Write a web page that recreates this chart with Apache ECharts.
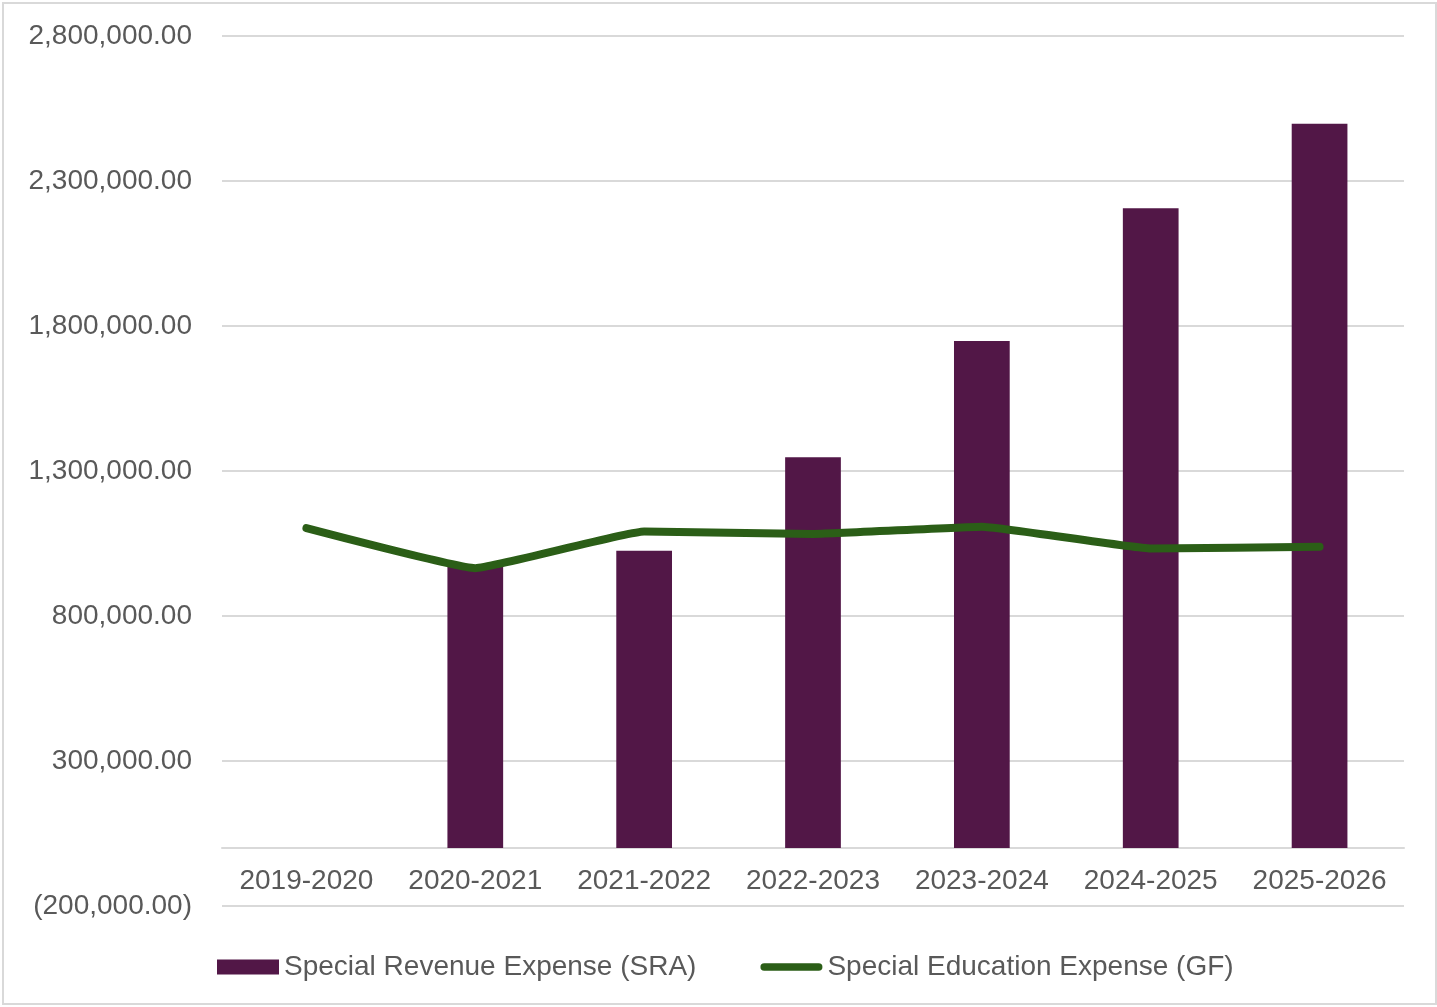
<!DOCTYPE html>
<html>
<head>
<meta charset="utf-8">
<script src="https://cdn.jsdelivr.net/npm/echarts@6/dist/echarts.min.js"></script>
<style>
  html, body { margin: 0; padding: 0; background: #fff; }
  #frame { position: absolute; left: 2px; top: 2px; width: 1431px; height: 999px; border: 2px solid #d9d9d9; box-sizing: content-box; }
  #chart { position: absolute; left: 0; top: 0; width: 1437px; height: 1007px; }
</style>
</head>
<body>
<div id="frame"></div>
<div id="chart"></div>
<script>
const categories = ["2019-2020", "2020-2021", "2021-2022", "2022-2023", "2023-2024", "2024-2025", "2025-2026"];
const sraValues = [0, 975000, 1025000, 1347000, 1748000, 2206000, 2497000];
const gfValues = [1103000, 965000, 1091000, 1083000, 1108000, 1033000, 1039000];
const yTicks = { min: -200000, max: 2800000, interval: 500000 };
const seriesNames = ['Special Revenue Expense (SRA)', 'Special Education Expense (GF)'];

function fmt(v) {
  const s = Math.abs(v).toLocaleString('en-US', { minimumFractionDigits: 2, maximumFractionDigits: 2 });
  return v < 0 ? '(' + s + ')' : s;
}

const chart = echarts.init(document.getElementById('chart'), null, { renderer: 'canvas' });
const font = 'Liberation Sans, Arial, sans-serif';
const fs = 28;
chart.setOption({
  backgroundColor: 'transparent',
  animation: false,
  textStyle: { fontFamily: font },
  grid: { left: 222, right: 33, top: 36, bottom: 101, containLabel: false },
  legend: {
    data: [
      { name: seriesNames[0], icon: 'rect' },
      { name: seriesNames[1], icon: 'path://M4,0 H62 A4,4 0 0 1 62,8 H4 A4,4 0 0 1 4,0 Z' }
    ],
    left: 212,
    top: 948,
    itemWidth: 62,
    itemHeight: 15,
    itemGap: 64,
    textStyle: { fontSize: fs, color: '#595959', fontFamily: font }
  },
  xAxis: {
    type: 'category',
    data: categories,
    offset: -58,
    axisLine: { show: true, onZero: false, lineStyle: { color: '#d9d9d9', width: 2 } },
    axisTick: { show: false },
    axisLabel: { interval: 0, hideOverlap: false, fontSize: fs, color: '#595959', margin: 19, fontFamily: font }
  },
  yAxis: {
    type: 'value',
    min: yTicks.min,
    max: yTicks.max,
    interval: yTicks.interval,
    axisLine: { show: false },
    axisTick: { show: false },
    splitLine: { lineStyle: { color: '#d9d9d9', width: 2 } },
    axisLabel: { fontSize: fs, color: '#595959', margin: 30, fontFamily: font, formatter: fmt }
  },
  series: [
    {
      name: seriesNames[0],
      type: 'bar',
      data: sraValues,
      barWidth: '33%',
      itemStyle: { color: '#521747' }
    },
    {
      name: seriesNames[1],
      type: 'line',
      data: gfValues,
      symbol: 'none',
      showSymbol: false,
      smooth: 0.1,
      lineStyle: { color: '#2b5e17', width: 8, cap: 'round', join: 'round' },
      itemStyle: { color: '#2b5e17' }
    }
  ]
});
</script>
</body>
</html>
